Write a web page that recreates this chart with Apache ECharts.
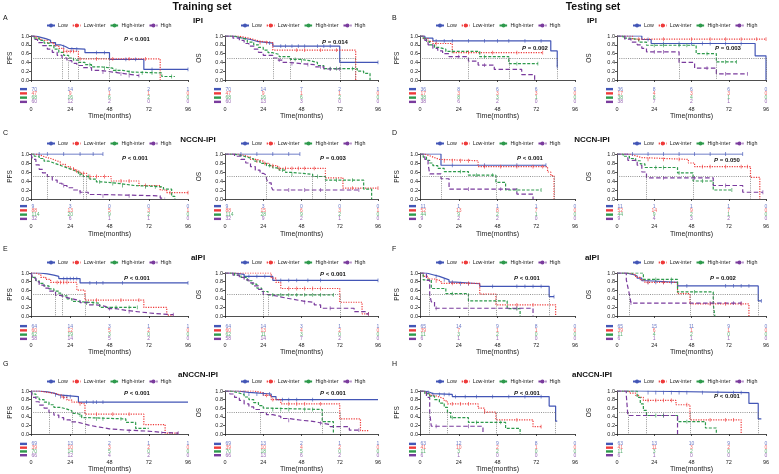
<!DOCTYPE html>
<html>
<head>
<meta charset="utf-8">
<script src="https://cdn.jsdelivr.net/npm/echarts@6/dist/echarts.min.js"></script>
<style>
  html, body { margin: 0; padding: 0; background: #fff; }
  #main { width: 779px; height: 474px; }
</style>
</head>
<body>
<div id="main"></div>
<script>
// groups, time ticks and p-values
const groups = ["Low", "Low-inter", "High-inter", "High"];
const months = [0, 24, 48, 72, 96];
const pValues = [
  "< 0.001", "= 0.014", "= 0.002", "= 0.003",
  "< 0.001", "= 0.003", "< 0.001", "= 0.050",
  "< 0.001", "< 0.001", "< 0.001", "= 0.002",
  "< 0.001", "< 0.001", "< 0.001", "< 0.001"
];

// KM step points [month, survival] per group (Low, Low-inter, High-inter, High)
const trainIpiPfs = [
  [[0,1],[3,0.97],[6,0.94],[9,0.9],[12,0.85],[15,0.8],[18,0.76],[21,0.72],[23,0.7],[33,0.62],[48,0.47],[69,0.24],[96,0.24]],
  [[0,1],[3,0.95],[6,0.9],[10,0.85],[14,0.78],[17,0.72],[20,0.65],[29,0.48],[79,0]],
  [[0,1],[2,0.95],[5,0.9],[8,0.84],[11,0.78],[14,0.7],[17,0.63],[20,0.56],[23,0.5],[26,0.45],[29,0.4],[33,0.35],[37,0.3],[42,0.27],[50,0.22],[56,0.18],[62,0.16],[80,0.08],[88,0.08]],
  [[0,1],[2,0.92],[4,0.85],[7,0.78],[10,0.7],[13,0.63],[16,0.56],[19,0.5],[22,0.44],[25,0.38],[28,0.33],[32,0.28],[37,0.22],[42,0.18],[50,0.14],[58,0.1],[66,0.1]]
];
const trainIpiOs = [
  [[0,1],[5,0.96],[10,0.92],[16,0.88],[20,0.84],[30,0.77],[72,0.4],[96,0.4]],
  [[0,1],[8,0.96],[14,0.92],[18,0.88],[22,0.85],[30,0.68],[82,0]],
  [[0,1],[6,0.96],[10,0.92],[14,0.86],[18,0.8],[21,0.74],[24,0.68],[27,0.62],[30,0.58],[34,0.53],[41,0.47],[47,0.44],[53,0.4],[58,0.33],[62,0.26],[83,0.2],[87,0.15],[91,0]],
  [[0,1],[5,0.95],[9,0.9],[12,0.83],[15,0.77],[18,0.7],[21,0.63],[24,0.56],[30,0.5],[33,0.45],[36,0.4],[40,0.37],[48,0.35],[56,0.3],[62,0.25],[73,0.25]]
];
const testIpiPfs = [
  [[0,1],[3,0.95],[8,0.89],[81,0.66],[85,0.3]],
  [[0,1],[2,0.94],[5,0.88],[8,0.83],[20,0.62],[76,0.62]],
  [[0,1],[2,0.95],[4,0.88],[6,0.8],[9,0.74],[12,0.7],[16,0.65],[37,0.53],[55,0.37],[73,0.37]],
  [[0,1],[3,0.9],[5,0.8],[8,0.72],[11,0.66],[14,0.6],[18,0.53],[30,0.43],[36,0.34],[46,0.24],[63,0.12],[71,0]]
];
const testIpiOs = [
  [[0,1],[16,0.92],[22,0.83],[89,0.55],[96,0]],
  [[0,1],[10,0.93],[96,0.93]],
  [[0,1],[4,0.95],[8,0.92],[14,0.86],[19,0.79],[51,0.6],[64,0.41],[77,0.41]],
  [[0,1],[5,0.93],[9,0.86],[13,0.8],[16,0.72],[19,0.64],[40,0.4],[50,0.27],[64,0.14],[84,0.14]]
];
const trainNccnPfs = [
  [[0,1],[44,1]],
  [[0,1],[3,0.97],[6,0.93],[9,0.9],[12,0.86],[15,0.82],[18,0.77],[21,0.72],[24,0.67],[27,0.62],[30,0.57],[34,0.5],[49,0.4],[66,0.3],[79,0.2],[83,0.14],[96,0.14]],
  [[0,1],[2,0.95],[5,0.9],[8,0.84],[11,0.8],[14,0.76],[17,0.72],[20,0.68],[23,0.64],[26,0.6],[29,0.55],[32,0.5],[36,0.44],[40,0.38],[44,0.34],[55,0.3],[63,0.27],[81,0.22],[86,0.06],[88,0]],
  [[0,1],[1,0.88],[3,0.76],[5,0.66],[7,0.58],[10,0.5],[13,0.42],[16,0.35],[19,0.3],[22,0.25],[26,0.2],[30,0.15],[35,0.1],[42,0.07],[79,0.02],[82,0.02]]
];
const trainNccnOs = [
  [[0,1],[47,1]],
  [[0,1],[8,0.97],[12,0.93],[16,0.88],[20,0.84],[24,0.79],[28,0.74],[33,0.68],[63,0.47],[74,0.24],[96,0.24]],
  [[0,1],[5,0.97],[10,0.93],[14,0.89],[18,0.84],[22,0.79],[26,0.74],[30,0.69],[34,0.64],[38,0.59],[42,0.55],[55,0.5],[63,0.42],[87,0.22],[92,0]],
  [[0,1],[6,0.95],[10,0.88],[13,0.8],[16,0.72],[19,0.64],[22,0.57],[24,0.53],[26,0.45],[27,0.36],[29,0.27],[30,0.2],[84,0.2]]
];
const testNccnPfs = [
  [[0,1],[13,0.75],[78,0.75]],
  [[0,1],[3,0.96],[6,0.92],[9,0.88],[12,0.85],[36,0.72],[79,0.6],[81,0.52],[83,0]],
  [[0,1],[2,0.93],[4,0.86],[6,0.8],[8,0.74],[11,0.68],[15,0.61],[30,0.53],[47,0.37],[53,0.2],[75,0.2]],
  [[0,1],[3,0.88],[5,0.78],[6,0.56],[13,0.45],[18,0.22],[60,0.11],[70,0]]
];
const testNccnOs = [
  [[0,1],[81,1]],
  [[0,1],[8,0.96],[12,0.92],[16,0.88],[46,0.8],[50,0.72],[86,0.48],[92,0]],
  [[0,1],[4,0.95],[8,0.9],[12,0.85],[15,0.78],[18,0.7],[39,0.58],[49,0.4],[62,0.2],[74,0.2]],
  [[0,1],[7,0.86],[13,0.75],[16,0.6],[19,0.47],[62,0.3],[81,0.15],[94,0.15]]
];
const trainAipiPfs = [
  [[0,1],[5,0.98],[10,0.95],[14,0.92],[17,0.87],[30,0.77],[96,0.77]],
  [[0,1],[3,0.96],[6,0.9],[9,0.85],[12,0.78],[28,0.6],[33,0.37],[69,0.2],[83,0.02],[87,0.02]],
  [[0,1],[1,0.9],[3,0.82],[5,0.76],[8,0.7],[11,0.63],[14,0.58],[17,0.53],[19,0.47],[22,0.4],[25,0.34],[28,0.3],[42,0.2],[65,0.2]],
  [[0,1],[1,0.88],[3,0.8],[5,0.72],[8,0.65],[11,0.58],[15,0.48],[18,0.44],[21,0.4],[25,0.36],[30,0.31],[35,0.26],[40,0.22],[46,0.17],[52,0.13],[58,0.1],[65,0.06],[75,0.03],[87,0.03]]
];
const trainAipiOs = [
  [[0,1],[6,0.97],[12,0.92],[30,0.83],[96,0.83]],
  [[0,1],[29,0.88],[32,0.78],[35,0.64],[72,0.32],[86,0.05],[90,0.05]],
  [[0,1],[6,0.95],[10,0.9],[14,0.82],[17,0.74],[20,0.65],[23,0.57],[27,0.49],[68,0.49]],
  [[0,1],[5,0.95],[9,0.9],[12,0.84],[15,0.77],[18,0.7],[21,0.62],[24,0.5],[28,0.46],[33,0.42],[38,0.38],[44,0.34],[50,0.32],[56,0.26],[60,0.18],[81,0.1],[88,0.05],[90,0.05]]
];
const testAipiPfs = [
  [[0,1],[4,0.96],[8,0.92],[12,0.88],[15,0.84],[18,0.79],[22,0.75],[37,0.69],[80,0.45],[83,0.45]],
  [[0,1],[2,0.92],[5,0.86],[9,0.82],[13,0.76],[37,0.51],[47,0.26],[84,0]],
  [[0,1],[2,0.84],[7,0.64],[16,0.52],[30,0.35],[54,0.17],[62,0]],
  [[0,1],[4,0.83],[6,0.5],[7,0.33],[9,0.18],[70,0]]
];
const testAipiOs = [
  [[0,1],[6,0.97],[10,0.93],[13,0.88],[16,0.82],[20,0.78],[39,0.7],[91,0.35],[93,0.35]],
  [[0,1],[8,0.96],[12,0.9],[15,0.84],[18,0.78],[39,0.52],[47,0.28],[85,0]],
  [[0,1],[17,0.85],[39,0.56],[62,0.28],[63,0]],
  [[0,1],[6,0.84],[7,0.67],[8,0.5],[9,0.3],[80,0.3]]
];
const trainAnccnPfs = [
  [[0,1],[5,0.98],[10,0.95],[14,0.91],[17,0.87],[29,0.74],[96,0.74]],
  [[0,1],[5,0.97],[10,0.94],[15,0.9],[19,0.85],[22,0.79],[25,0.74],[28,0.7],[33,0.46],[69,0.22],[82,0.02],[90,0.02]],
  [[0,1],[1,0.93],[3,0.86],[5,0.8],[8,0.74],[11,0.68],[14,0.62],[18,0.58],[22,0.54],[25,0.48],[28,0.44],[31,0.38],[35,0.35],[58,0.27],[64,0.13],[72,0.13]],
  [[0,1],[1,0.85],[3,0.75],[5,0.67],[8,0.6],[11,0.5],[14,0.44],[17,0.38],[20,0.33],[24,0.28],[28,0.24],[32,0.2],[36,0.16],[42,0.12],[48,0.09],[58,0.07],[70,0.04],[80,0.02],[90,0.02]]
];
const trainAnccnOs = [
  [[0,1],[8,0.97],[15,0.93],[29,0.87],[32,0.8],[96,0.8]],
  [[0,1],[18,0.96],[24,0.9],[29,0.8],[35,0.7],[72,0.35],[85,0.08],[90,0.08]],
  [[0,1],[4,0.96],[8,0.92],[12,0.86],[15,0.8],[18,0.73],[21,0.66],[24,0.6],[28,0.57],[61,0.29],[68,0]],
  [[0,1],[3,0.93],[6,0.85],[9,0.78],[12,0.7],[15,0.63],[18,0.57],[22,0.5],[26,0.45],[30,0.41],[35,0.36],[40,0.32],[48,0.29],[56,0.25],[61,0.22],[66,0.17],[78,0.09],[84,0.09]]
];
const testAnccnPfs = [
  [[0,1],[3,0.97],[6,0.94],[8,0.92],[20,0.87],[80,0.65],[84,0.3],[85,0.3]],
  [[0,1],[3,0.95],[6,0.9],[9,0.86],[12,0.82],[15,0.77],[17,0.7],[36,0.6],[40,0.51],[47,0.33],[70,0.17],[75,0.17]],
  [[0,1],[3,0.94],[6,0.88],[9,0.8],[12,0.72],[15,0.62],[17,0.5],[19,0.38],[30,0.27],[53,0.13],[62,0]],
  [[0,1],[4,0.85],[6,0.5],[7,0.18],[39,0]]
];
const testAnccnOs = [
  [[0,1],[15,0.96],[85,0.71],[91,0.35],[93,0.35]],
  [[0,1],[8,0.95],[12,0.9],[14,0.85],[17,0.78],[38,0.68],[47,0.33],[80,0]],
  [[0,1],[13,0.85],[15,0.7],[17,0.55],[19,0.43],[39,0.29],[57,0.14],[64,0]],
  [[0,1],[6,0.9],[7,0.43],[39,0]]
];

// censored times per group
const trainIpiPfsCens = [[15,20,25,28,40,45,58,64,74,96],[20,22,24,26,30,40,50,60,70],[36,45,52,60,68,74,86],[44,55,60,66]];
const trainIpiOsCens = [[28,35,38,42,46,50,58,62,66,96],[22,26,45,50,60,70],[44,48,66,70,80],[34,42,52,60,66,72]];
const testIpiPfsCens = [[10,15,20,30,40,48,55,65,75,85],[10,30,45,60,76],[20,40,60,73],[24,40]];
const testIpiOsCens = [[20,30,40,48,55,60,70,80],[14,30,48,60,70,80,90,96],[24,30,40,45,58,70,77],[24,30,58,70,84]];
const trainNccnPfsCens = [[5,10,20,30,38,44],[26,28,32,36,40,45,55,60,70,85,96],[30,35,42,50,56,70,76],[20,30,44,60]];
const trainNccnOsCens = [[10,20,30,40,47],[20,25,30,34,38,42,46,50,56,80,96],[28,36,42,58,70,80],[40,50,60,84]];
const testNccnPfsCens = [[20,40,60,78],[15,20,25,30,40,50,60,70,76],[25,35,45,60,75],[30,50]];
const testNccnOsCens = [[10,20,30,40,50,60,70,81],[20,30,40,55,60,70,80,84],[25,30,40,55,74],[30,50,70,94]];
const trainAipiPfsCens = [[20,22,24,26,28,36,40,44,56,96],[16,18,20,22,40,55,66],[34,38,52,60,65],[48,60,87]];
const trainAipiOsCens = [[15,20,25,35,40,45,52,60,96],[40,45,50,55,60,90],[30,35,40,45,50,55,60,68],[50,66,90]];
const testAipiPfsCens = [[10,15,20,25,30,45,60,65,70,75,83],[10,20,30,60,70],[20,60],[10,60]];
const testAipiOsCens = [[20,25,30,35,45,70,75,80,85,93],[20,30,60,70,80],[25,35,50],[9,60,75,80]];
const trainAnccnPfsCens = [[15,18,20,22,24,34,38,40,44],[20,30,40,50,60],[30,40,44,55],[60,80,90]];
const trainAnccnOsCens = [[12,15,20,24,28,36,40,45,55],[26,30,40,45,50,60],[30,35,40,50,55],[40,60,84]];
const testAnccnPfsCens = [[5,8,12,15,18,22,28,35,45,55,65,75],[20,25,30,40,60,75],[20,35,50],[10,30]];
const testAnccnOsCens = [[20,25,30,35,40,45,55,65,75,80],[20,25,30,35,45,60,70,75],[25,30,45],[30]];

// numbers at risk at months 0/24/48/72/96
const trainIpiPfsRisk = [[70,14,6,2,1],[47,9,1,1,0],[68,16,6,2,0],[60,12,2,0,0]];
const trainIpiOsRisk = [[70,14,7,2,1],[47,9,1,1,0],[68,16,6,2,0],[60,13,3,0,0]];
const testIpiPfsRisk = [[36,8,6,6,0],[17,3,3,3,0],[38,8,3,1,0],[38,6,2,0,0]];
const testIpiOsRisk = [[36,8,6,6,0],[17,4,3,3,0],[38,8,4,1,0],[38,7,2,1,0]];
const trainNccnPfsRisk = [[9,3,0,0,0],[88,13,5,3,1],[114,20,9,2,0],[32,6,1,1,0]];
const trainNccnOsRisk = [[9,3,0,0,0],[88,15,6,3,1],[114,28,9,2,0],[32,9,2,1,0]];
const testNccnPfsRisk = [[11,1,1,1,0],[52,13,8,7,0],[44,9,2,1,0],[9,2,2,0,0]];
const testNccnOsRisk = [[11,1,1,1,0],[52,14,9,7,0],[44,9,2,1,0],[9,4,3,2,0]];
const trainAipiPfsRisk = [[64,14,3,1,1],[60,12,5,2,0],[62,19,3,0,0],[58,14,5,2,0]];
const trainAipiOsRisk = [[64,14,3,1,1],[60,13,4,2,0],[62,11,3,0,0],[58,14,7,2,0]];
const testAipiPfsRisk = [[65,14,9,8,0],[39,7,1,1,0],[11,3,2,0,0],[6,1,1,0,0]];
const testAipiOsRisk = [[65,15,11,9,0],[39,6,1,1,0],[11,4,2,0,0],[6,1,1,1,0]];
const trainAnccnPfsRisk = [[69,13,2,1,1],[39,10,3,2,0],[70,14,5,0,0],[66,12,4,2,0]];
const trainAnccnOsRisk = [[69,13,2,1,1],[39,10,4,2,0],[70,18,5,0,0],[66,13,6,2,0]];
const testAnccnPfsRisk = [[63,12,9,8,0],[41,10,2,1,0],[11,3,2,0,0],[6,1,0,0,0]];
const testAnccnOsRisk = [[63,13,10,9,0],[41,11,3,2,0],[11,3,2,0,0],[6,1,0,0,0]];

const panels = [
  [trainIpiPfs, trainIpiPfsCens, trainIpiPfsRisk, "PFS"],
  [trainIpiOs, trainIpiOsCens, trainIpiOsRisk, "OS"],
  [testIpiPfs, testIpiPfsCens, testIpiPfsRisk, "PFS"],
  [testIpiOs, testIpiOsCens, testIpiOsRisk, "OS"],
  [trainNccnPfs, trainNccnPfsCens, trainNccnPfsRisk, "PFS"],
  [trainNccnOs, trainNccnOsCens, trainNccnOsRisk, "OS"],
  [testNccnPfs, testNccnPfsCens, testNccnPfsRisk, "PFS"],
  [testNccnOs, testNccnOsCens, testNccnOsRisk, "OS"],
  [trainAipiPfs, trainAipiPfsCens, trainAipiPfsRisk, "PFS"],
  [trainAipiOs, trainAipiOsCens, trainAipiOsRisk, "OS"],
  [testAipiPfs, testAipiPfsCens, testAipiPfsRisk, "PFS"],
  [testAipiOs, testAipiOsCens, testAipiOsRisk, "OS"],
  [trainAnccnPfs, trainAnccnPfsCens, trainAnccnPfsRisk, "PFS"],
  [trainAnccnOs, trainAnccnOsCens, trainAnccnOsRisk, "OS"],
  [testAnccnPfs, testAnccnPfsCens, testAnccnPfsRisk, "PFS"],
  [testAnccnOs, testAnccnOsCens, testAnccnOsRisk, "OS"]
];
const rowTitles = ["IPI", "NCCN-IPI", "aIPI", "aNCCN-IPI"];
const letters = ["A", "B", "C", "D", "E", "F", "G", "H"];

// layout
const FONT = '"Liberation Sans", Arial, sans-serif';
const colors = ["#4356b6", "#ee3a3a", "#2e9a4c", "#7a3b9d"];
const dashes = ["solid", [1.2, 1.3], [3, 1.6], [4.5, 2.5]];
const icons = [
  "path://M0,4.3h20v1.4h-20z M9.3,0h1.4v10h-1.4z",
  "path://M0,4.3h2v1.4h-2z M3.6,4.3h2v1.4h-2z M9.3,0h1.4v10h-1.4z M14.4,4.3h2v1.4h-2z M18,4.3h2v1.4h-2z",
  "path://M0,4.3h4v1.4h-4z M9.3,0h1.4v10h-1.4z M16,4.3h4v1.4h-4z",
  "path://M0,4.3h5v1.4h-5z M9.3,0h1.4v10h-1.4z M15,4.3h5v1.4h-5z"
];
const colLeft = [31, 225, 420, 617];
const colRight = [188, 378, 575, 766];
const yNameGap = [17, 22, 19, 24];
const rows = [
  { plotTop: 36, plotBot: 80, riskTop: 87, riskBot: 104, legendY: 26, labelMargin: 2, nameGap: 9, titleY: 21, letterY: 18 },
  { plotTop: 154, plotBot: 199, riskTop: 204, riskBot: 221, legendY: 144, labelMargin: 2, nameGap: 10, titleY: 140, letterY: 133 },
  { plotTop: 273, plotBot: 316, riskTop: 324, riskBot: 341, legendY: 263, labelMargin: 1, nameGap: 6, titleY: 258, letterY: 249 },
  { plotTop: 391, plotBot: 434, riskTop: 442, riskBot: 458, legendY: 382, labelMargin: 2, nameGap: 6, titleY: 375, letterY: 364 }
];
const pPos = [
  [137, 39], [335, 42], [535, 48], [728, 48],
  [135, 158], [333, 158], [530, 158], [727, 160],
  [137, 278], [333, 274], [527, 278], [723, 278],
  [137, 393], [333, 393], [527, 393], [727, 396]
];

function survAt(pts, t) {
  let s = 1;
  for (const d of pts) { if (d[0] <= t) s = d[1]; }
  return s;
}

const grid = [], xAxis = [], yAxis = [], series = [], legend = [], graphic = [];
const axisCol = "#222";

panels.forEach(([curves, cens, risk, yName], p) => {
  const r = Math.floor(p / 4), c = p % 4;
  const R = rows[r];
  const L = colLeft[c], W = colRight[c] - colLeft[c];
  const gPlot = grid.length, gRisk = gPlot + 1;
  grid.push({ left: L, width: W, top: R.plotTop, height: R.plotBot - R.plotTop });
  grid.push({ left: L, width: W, top: R.riskTop, height: R.riskBot - R.riskTop });

  xAxis.push({
    gridIndex: gPlot, type: "value", min: 0, max: 96, interval: 24,
    axisLine: { lineStyle: { color: axisCol, width: 0.8 } },
    axisTick: { length: 2, lineStyle: { color: axisCol, width: 0.8 } },
    axisLabel: { show: false }, splitLine: { show: false }
  });
  yAxis.push({
    gridIndex: gPlot, type: "value", min: 0, max: 1, interval: 0.2,
    name: yName, nameLocation: "middle", nameGap: yNameGap[c],
    nameTextStyle: { fontSize: 6.5, color: axisCol, fontFamily: FONT },
    axisLine: { show: true, lineStyle: { color: axisCol, width: 0.8 } },
    axisTick: { show: true, length: 2, lineStyle: { color: axisCol, width: 0.8 } },
    axisLabel: { fontSize: 5.5, margin: 2, color: axisCol, fontFamily: FONT, formatter: v => v.toFixed(1) },
    splitLine: { show: false }
  });
  xAxis.push({
    gridIndex: gRisk, type: "value", min: 0, max: 96, interval: 24,
    name: "Time(months)", nameLocation: "middle", nameGap: R.nameGap,
    nameTextStyle: { fontSize: 7, color: axisCol, fontFamily: FONT },
    axisLine: { lineStyle: { color: axisCol, width: 0.8 } },
    axisTick: { length: 2, lineStyle: { color: axisCol, width: 0.8 } },
    axisLabel: { fontSize: 5.5, margin: R.labelMargin, color: axisCol, fontFamily: FONT },
    splitLine: { show: false }
  });
  const rich = {};
  colors.forEach((col, i) => { rich["g" + i] = { backgroundColor: col, width: 7, height: 2.4, fontSize: 2, lineHeight: 2.4 }; });
  yAxis.push({
    gridIndex: gRisk, type: "category", data: groups, inverse: true,
    axisLine: { show: false }, axisTick: { show: false },
    axisLabel: { margin: 4, interval: 0, hideOverlap: false, formatter: (v, i) => "{g" + i + "| }", rich: rich }
  });

  // median lines
  const meds = curves.map(pts => { const q = pts.find(d => d[1] <= 0.5); return q ? q[0] : null; }).filter(m => m !== null);
  const mLines = [];
  if (meds.length) {
    const mx = Math.max(...meds);
    mLines.push([{ coord: [0, 0.5] }, { coord: [mx, 0.5] }]);
    meds.forEach(m => mLines.push([{ coord: [m, 0.5] }, { coord: [m, 0] }]));
  }
  series.push({
    type: "line", name: "median", xAxisIndex: gPlot, yAxisIndex: gPlot,
    data: [], symbol: "none", silent: true,
    markLine: {
      silent: true, symbol: "none", label: { show: false }, animation: false,
      lineStyle: { color: "#666", type: [1, 1.2], width: 0.7 }, data: mLines
    }
  });

  curves.forEach((pts, g) => {
    const endT = pts[pts.length - 1][0];
    series.push({
      type: "line", name: groups[g], xAxisIndex: gPlot, yAxisIndex: gPlot,
      data: pts, step: "end", symbol: "none", silent: true, legendIcon: icons[g],
      itemStyle: { color: colors[g] },
      lineStyle: { color: colors[g], width: 1.2, type: dashes[g] }, z: 3
    });
    series.push({
      type: "scatter", name: groups[g] + " censored", xAxisIndex: gPlot, yAxisIndex: gPlot,
      data: cens[g].filter(t => t <= endT).map(t => [t, survAt(pts, t)]),
      symbol: "rect", symbolSize: [0.8, 3.8], silent: true,
      itemStyle: { color: colors[g] }, z: 4
    });
    series.push({
      type: "scatter", name: groups[g] + " at risk", xAxisIndex: gRisk, yAxisIndex: gRisk,
      data: risk[g].map((n, k) => ({
        value: [months[k], g, n],
        label: k === 0 ? { show: true, position: "right", distance: 0 } : { show: true, position: "inside" }
      })),
      symbolSize: 1, silent: true, itemStyle: { color: "rgba(0,0,0,0)" },
      labelLayout: { hideOverlap: false },
      label: {
        show: true, position: "inside", color: colors[g], fontSize: 5, fontFamily: FONT,
        formatter: q => String(q.value[2])
      }
    });
  });

  legend.push({
    data: groups, left: L + 15, top: R.legendY - 3, padding: 0,
    itemWidth: 8, itemHeight: 5, itemGap: 4, selectedMode: false,
    textStyle: { fontSize: 5.3, color: axisCol, fontFamily: FONT, padding: [0, 0, 0, -2] }
  });

  graphic.push({
    type: "text", x: pPos[p][0], y: pPos[p][1], silent: true,
    style: {
      text: "{i|P}{n| " + pValues[p] + "}", align: "center", verticalAlign: "middle",
      textAlign: "center", textVerticalAlign: "middle",
      rich: {
        i: { fontStyle: "italic", fontWeight: "bold", fontSize: 6, fontFamily: FONT, fill: "#111" },
        n: { fontWeight: "bold", fontSize: 6, fontFamily: FONT, fill: "#111" }
      }
    }
  });
});

// headings
const textEl = (x, y, text, font, align) => ({
  type: "text", x: x, y: y, silent: true,
  style: { text: text, font: font, fill: "#111", align: align || "center", verticalAlign: "middle", textAlign: align || "center", textVerticalAlign: "middle" }
});
graphic.push(textEl(202, 7, "Training set", "bold 10.5px " + FONT));
graphic.push(textEl(593, 7, "Testing set", "bold 10.5px " + FONT));
rows.forEach((R, r) => {
  graphic.push(textEl(198, R.titleY, rowTitles[r], "bold 8px " + FONT));
  graphic.push(textEl(592, R.titleY, rowTitles[r], "bold 8px " + FONT));
  graphic.push(textEl(3, R.letterY, letters[r * 2], "7px " + FONT, "left"));
  graphic.push(textEl(392, R.letterY, letters[r * 2 + 1], "7px " + FONT, "left"));
});

const chart = echarts.init(document.getElementById("main"));
chart.setOption({
  animation: false,
  textStyle: { fontFamily: FONT },
  grid, xAxis, yAxis, legend, series, graphic
});
</script>
</body>
</html>
